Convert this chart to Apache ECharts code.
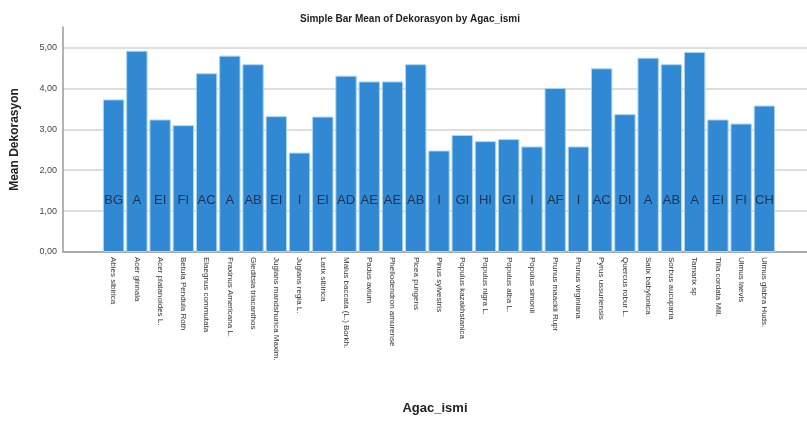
<!DOCTYPE html>
<html>
<head>
<meta charset="utf-8">
<script src="https://cdn.jsdelivr.net/npm/echarts@6/dist/echarts.min.js"></script>
<style>html,body{margin:0;padding:0;background:#fff;}#c{width:807px;height:423px;}</style>
</head>
<body>
<div id="c"></div>
<script>
const categories = ["Abies sibirica","Acer ginnala","Acer platanoides L.","Betula Pendula Roth","Elaegnus commutata","Fraxinus Americana L.","Gleditsia triacanthos","Juglans mandshurica Maxim.","Juglans regia L.","Larix sibirica","Malus baccata (L.) Borkh.","Padus avium","Phellodendron amurense","Picea pungens","Pinus sylvestris","Populus kazakhstanica","Populus nigra L.","Populus alba L.","Populus simonii","Prunus maackii Rupr","Prunus virginiana","Pyrus ussuriensis","Quercus robur L.","Salix babylonica","Sorbus aucuparia","Tamarix sp","Tilia cordata Mill.","Ulmus laevis","Ulmus glabra Huds."];
const meanValues = [3.73,4.92,3.24,3.10,4.37,4.80,4.59,3.32,2.43,3.31,4.31,4.17,4.17,4.59,2.48,2.86,2.71,2.76,2.58,4.01,2.58,4.49,3.37,4.75,4.59,4.89,3.24,3.14,3.58];
const groupLetters = ["BG","A","EI","FI","AC","A","AB","EI","I","EI","AD","AE","AE","AB","I","GI","HI","GI","I","AF","I","AC","DI","A","AB","A","EI","FI","CH"];

const chart = echarts.init(document.getElementById('c'), null, {renderer:'canvas'});
const font = 'Arial, "Liberation Sans", sans-serif';
chart.setOption({
  animation:false,
  backgroundColor:'#fff',
  title:{text:'Simple Bar Mean of Dekorasyon by Agac_ismi', left:405, textAlign:'center', top:9,
    textStyle:{fontSize:10, fontWeight:'bold', fontFamily:font, color:'#222'}},
  grid:[
    {left:63, right:0, top:27, bottom:171, outerBoundsMode:'none', containLabel:false},
    {left:102, right:31, top:27, bottom:171, outerBoundsMode:'none', containLabel:false}
  ],
  xAxis:[
    {gridIndex:0, type:'value', min:0, max:1, axisLabel:{show:false}, axisTick:{show:false}, splitLine:{show:false},
      axisLine:{show:true, lineStyle:{color:'#9a9a9a', width:1.5}},
      name:'Agac_ismi', nameLocation:'middle', nameGap:150,
      nameTextStyle:{fontSize:13, fontWeight:'bold', fontFamily:font, color:'#222'}},
    {gridIndex:1, type:'category', data:categories, axisLine:{show:false}, axisTick:{show:false},
      axisLabel:{rotate:-90, interval:0, fontSize:8, margin:5, color:'#333', fontFamily:font}}
  ],
  yAxis:[
    {gridIndex:0, type:'value', min:0, max:5.5, interval:1,
      axisLine:{show:true, lineStyle:{color:'#9a9a9a', width:1.5}}, axisTick:{show:false},
      axisLabel:{showMaxLabel:false, fontSize:9, color:'#444', margin:6, fontFamily:font,
        formatter:v=>v.toFixed(2).replace('.',',')},
      splitLine:{show:true, showMaxLine:false, lineStyle:{color:'#d3d3d3', width:1.5}},
      name:'Mean Dekorasyon', nameLocation:'middle', nameGap:42,
      nameTextStyle:{fontSize:12, fontWeight:'bold', fontFamily:font, color:'#222'}},
    {gridIndex:1, type:'value', min:0, max:5.5, show:false, splitLine:{show:false}}
  ],
  series:[{
    type:'bar', xAxisIndex:1, yAxisIndex:1, data:meanValues, barCategoryGap:'8%',
    itemStyle:{color:'#3189d3', borderColor:'#a9d5f2', borderWidth:1},
    label:{show:true, position:'insideBottom', distance:45,
      formatter:p=>groupLetters[p.dataIndex], fontSize:13, color:'#1e3350', fontFamily:font}
  }]
});
</script>
</body>
</html>
